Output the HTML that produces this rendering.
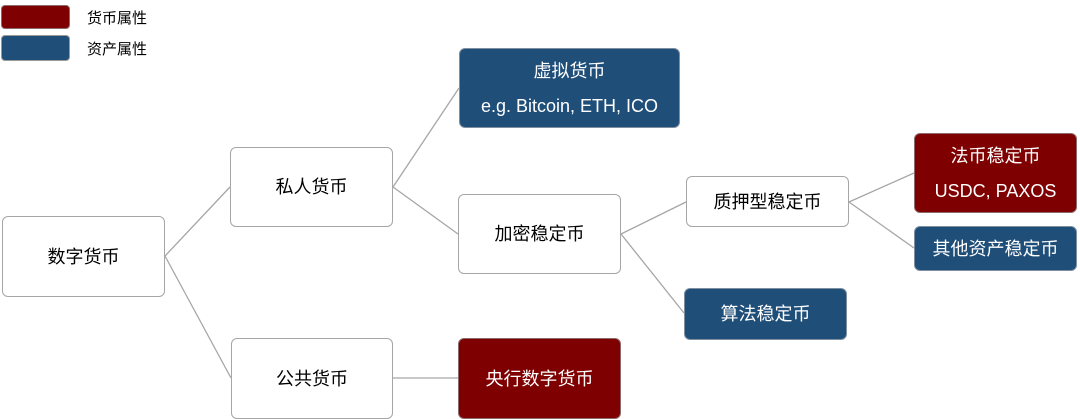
<!DOCTYPE html>
<html><head><meta charset="utf-8"><style>
body{margin:0;width:1080px;height:419px;background:#fff;position:relative;overflow:hidden;font-family:"Liberation Sans","Noto Sans CJK SC",sans-serif;}
.b{position:absolute;box-sizing:border-box;border:1px solid #a6a6a6;border-radius:6px;background:#fff;color:#000;display:flex;flex-direction:column;align-items:center;justify-content:center;font-size:18px;line-height:1;}
.r{background:#7f0000;color:#fff;border-color:#8a6a6a;}
.u{background:#1f4e79;color:#fff;border-color:#7f8fa0;}
.b span+span{margin-top:17px;}
.lg{position:absolute;font-size:15px;}
svg{position:absolute;left:0;top:0;}
</style></head><body>
<svg width="1080" height="419"><g stroke="#a6a6a6" stroke-width="1.3" fill="none">
<line x1="165" y1="256" x2="230" y2="187"/><line x1="165" y1="256" x2="231" y2="378"/>
<line x1="393" y1="187" x2="459" y2="88"/><line x1="393" y1="187" x2="458" y2="234"/>
<line x1="393" y1="378" x2="458" y2="378"/>
<line x1="621" y1="234" x2="686" y2="202"/><line x1="621" y1="234" x2="684" y2="313"/>
<line x1="849" y1="202" x2="914" y2="173"/><line x1="849" y1="202" x2="914" y2="248"/>
</g></svg>
<div class="b r" style="left:1px;top:5px;width:69px;height:24px;border-radius:4px"></div>
<div class="b u" style="left:1px;top:35px;width:69px;height:26px;border-radius:4px;border-color:#999"></div>
<div class="lg" style="left:87px;top:7px">货币属性</div>
<div class="lg" style="left:87px;top:38px">资产属性</div>
<div class="b" style="left:2px;top:216px;width:163px;height:81px">数字货币</div>
<div class="b" style="left:230px;top:147px;width:163px;height:80px">私人货币</div>
<div class="b" style="left:231px;top:338px;width:162px;height:81px">公共货币</div>
<div class="b u" style="left:459px;top:48px;width:221px;height:80px"><span>虚拟货币</span><span>e.g. Bitcoin, ETH, ICO</span></div>
<div class="b" style="left:458px;top:194px;width:163px;height:80px">加密稳定币</div>
<div class="b r" style="left:458px;top:338px;width:163px;height:81px">央行数字货币</div>
<div class="b" style="left:686px;top:176px;width:163px;height:51px">质押型稳定币</div>
<div class="b u" style="left:684px;top:288px;width:163px;height:52px">算法稳定币</div>
<div class="b r" style="left:914px;top:133px;width:163px;height:80px"><span>法币稳定币</span><span>USDC, PAXOS</span></div>
<div class="b u" style="left:914px;top:226px;width:163px;height:45px">其他资产稳定币</div>
</body></html>
